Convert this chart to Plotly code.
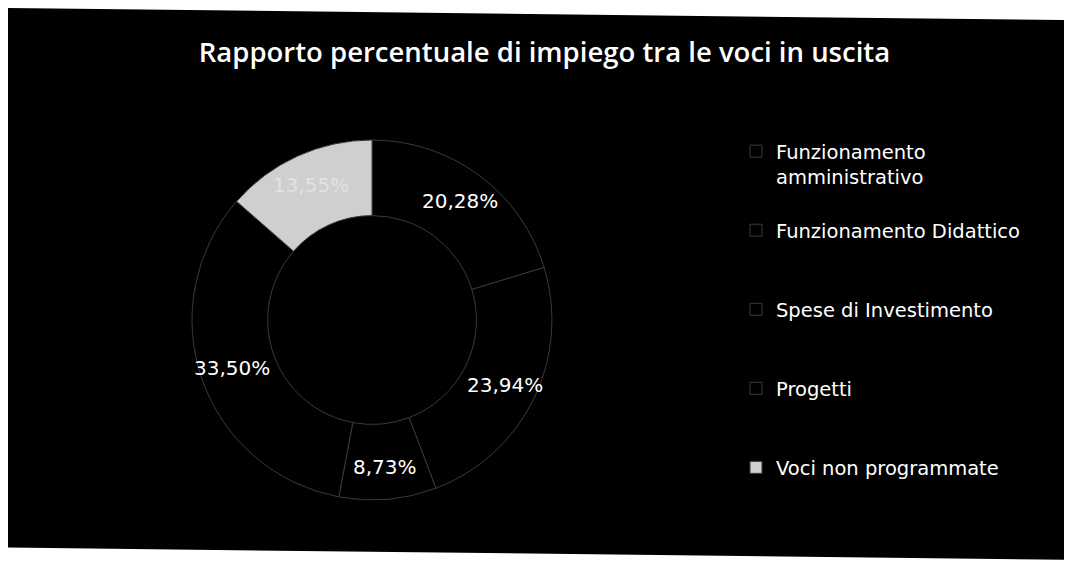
import math
import plotly.graph_objects as go

categories = ["Funzionamento<br>amministrativo", "Funzionamento Didattico",
              "Spese di Investimento", "Progetti", "Voci non programmate"]
values = [20.28, 23.94, 8.73, 33.50, 13.55]
slice_colors = ["#000000", "#000000", "#000000", "#000000", "#cfcfcf"]
label_colors = ["white", "white", "white", "white", "#e2e2e2"]

title_text = "Rapporto percentuale di impiego tra le voci in uscita"

W, H = 1064, 554
# pie geometry (pixels inside the figure)
CX, CY, R_OUT, R_LABEL = 364, 312, 180, 148

# legend spacing: every entry takes three text lines
legend_labels = []
for c in categories:
    n = c.count("<br>") + 1
    legend_labels.append(c + "<br> " * (3 - n))

fig = go.Figure(go.Pie(
    labels=legend_labels,
    values=values,
    sort=False,
    direction="clockwise",
    rotation=0,
    hole=0.58,
    marker=dict(colors=slice_colors, line=dict(color="#3a3a3a", width=1)),
    textinfo="none",
    domain=dict(x=[(CX - R_OUT) / W, (CX + R_OUT) / W],
                y=[1 - (CY + R_OUT) / H, 1 - (CY - R_OUT) / H]),
    hoverinfo="label+percent",
))

# percentage labels placed at each slice's mid-angle
total = sum(values)
cum = 0.0
annotations = []
for v, col in zip(values, label_colors):
    theta = 2 * math.pi * (cum + v / 2) / total
    cum += v
    pct = f"{v / total * 100:.2f}".replace(".", ",") + "%"
    annotations.append(dict(
        text=pct, showarrow=False, xref="paper", yref="paper",
        x=(CX + R_LABEL * math.sin(theta)) / W,
        y=1 - (CY - R_LABEL * math.cos(theta)) / H,
        xanchor="center", yanchor="middle",
        font=dict(color=col, size=20, family="DejaVu Sans"),
    ))

fig.update_layout(
    width=W, height=H,
    margin=dict(l=0, r=0, t=0, b=0),
    paper_bgcolor="black",
    plot_bgcolor="black",
    separators=",.",
    title=dict(text=title_text, x=0.5042, xanchor="center", y=0.9197, yanchor="middle",
               font=dict(color="white", size=27.5, family="Open Sans", weight=600)),
    legend=dict(x=0.6842, xanchor="left", y=0.7762, yanchor="top",
                font=dict(color="white", size=19.5, family="DejaVu Sans"),
                valign="top", bgcolor="rgba(0,0,0,0)", itemwidth=30),
    showlegend=True,
    annotations=annotations,
    shapes=[
        dict(type="path", xref="paper", yref="paper",
             path="M 0 1 L 1 1 L 1 0.978 L 0 1 Z",
             fillcolor="white", line=dict(width=0), layer="above"),
        dict(type="path", xref="paper", yref="paper",
             path="M 0 0 L 1 0 L 1 0.004 L 0 0.026 Z",
             fillcolor="white", line=dict(width=0), layer="above"),
    ],
)

fig.write_html("out.html")
